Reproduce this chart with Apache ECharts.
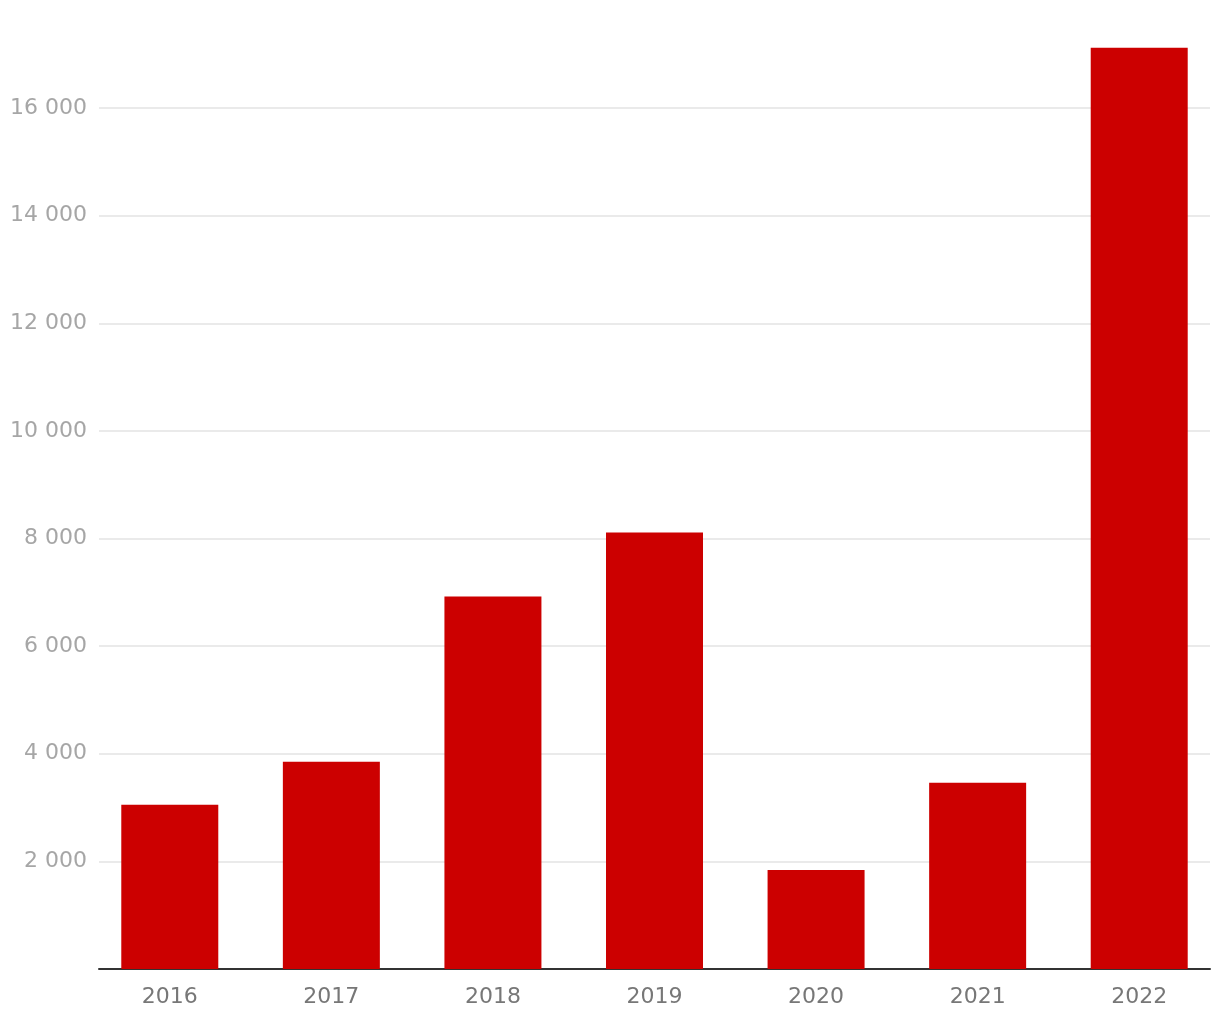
<!DOCTYPE html>
<html>
<head>
<meta charset="utf-8">
<script src="https://cdn.jsdelivr.net/npm/echarts@6/dist/echarts.min.js"></script>
<style>
  html, body { margin: 0; padding: 0; background: #fff; }
  #chart { width: 1220px; height: 1020px; }
</style>
</head>
<body>
<div id="chart"></div>
<script>
var years = ['2016', '2017', '2018', '2019', '2020', '2021', '2022']
var values = [3050, 3850, 6920, 8110, 1840, 3460, 17120]
var yTicks = [0, 2000, 4000, 6000, 8000, 10000, 12000, 14000, 16000]

var fontFam = 'DejaVu Sans'
var echart = echarts.init(document.getElementById('chart'))

function fmt(v) {
  if (v === 0) return ''
  return String(v).replace(/\B(?=(\d{3})+(?!\d))/g, ' ')
}

var option = {
  animation: false,
  backgroundColor: '#fff',
  grid: [
    // grid lines + y labels + axis line
    { left: 99, right: 10, top: 108, bottom: 51, containLabel: false },
    // bars + x labels
    { left: 89, right: -1, top: 43.4, bottom: 51, containLabel: false }
  ],
  xAxis: [{
    gridIndex: 0,
    type: 'category',
    data: years,
    axisLine: { show: true, lineStyle: { color: '#333', width: 2 } },
    axisTick: { show: false },
    axisLabel: { show: false }
  }, {
    gridIndex: 1,
    type: 'category',
    data: years,
    axisLine: { show: false },
    axisTick: { show: false },
    axisLabel: {
      color: '#777',
      fontSize: 22,
      fontFamily: fontFam,
      margin: 17
    }
  }],
  yAxis: [{
    gridIndex: 0,
    type: 'value',
    min: yTicks[0],
    max: yTicks[yTicks.length - 1],
    interval: 2000,
    axisLine: { show: false },
    axisTick: { show: false },
    splitLine: { show: true, lineStyle: { color: '#e3e3e3', width: 1.5 } },
    axisLabel: {
      color: '#a6a6a6',
      fontSize: 22,
      fontFamily: fontFam,
      margin: 12,
      padding: [3, 0, 0, 0],
      formatter: fmt
    }
  }, {
    gridIndex: 1,
    type: 'value',
    min: 0,
    max: 17200,
    show: false
  }],
  series: [{
    type: 'bar',
    xAxisIndex: 1,
    yAxisIndex: 1,
    barWidth: 97,
    itemStyle: { color: '#cc0000' },
    z: 1,
    data: values
  }]
}
echart.setOption(option)
</script>
</body>
</html>
